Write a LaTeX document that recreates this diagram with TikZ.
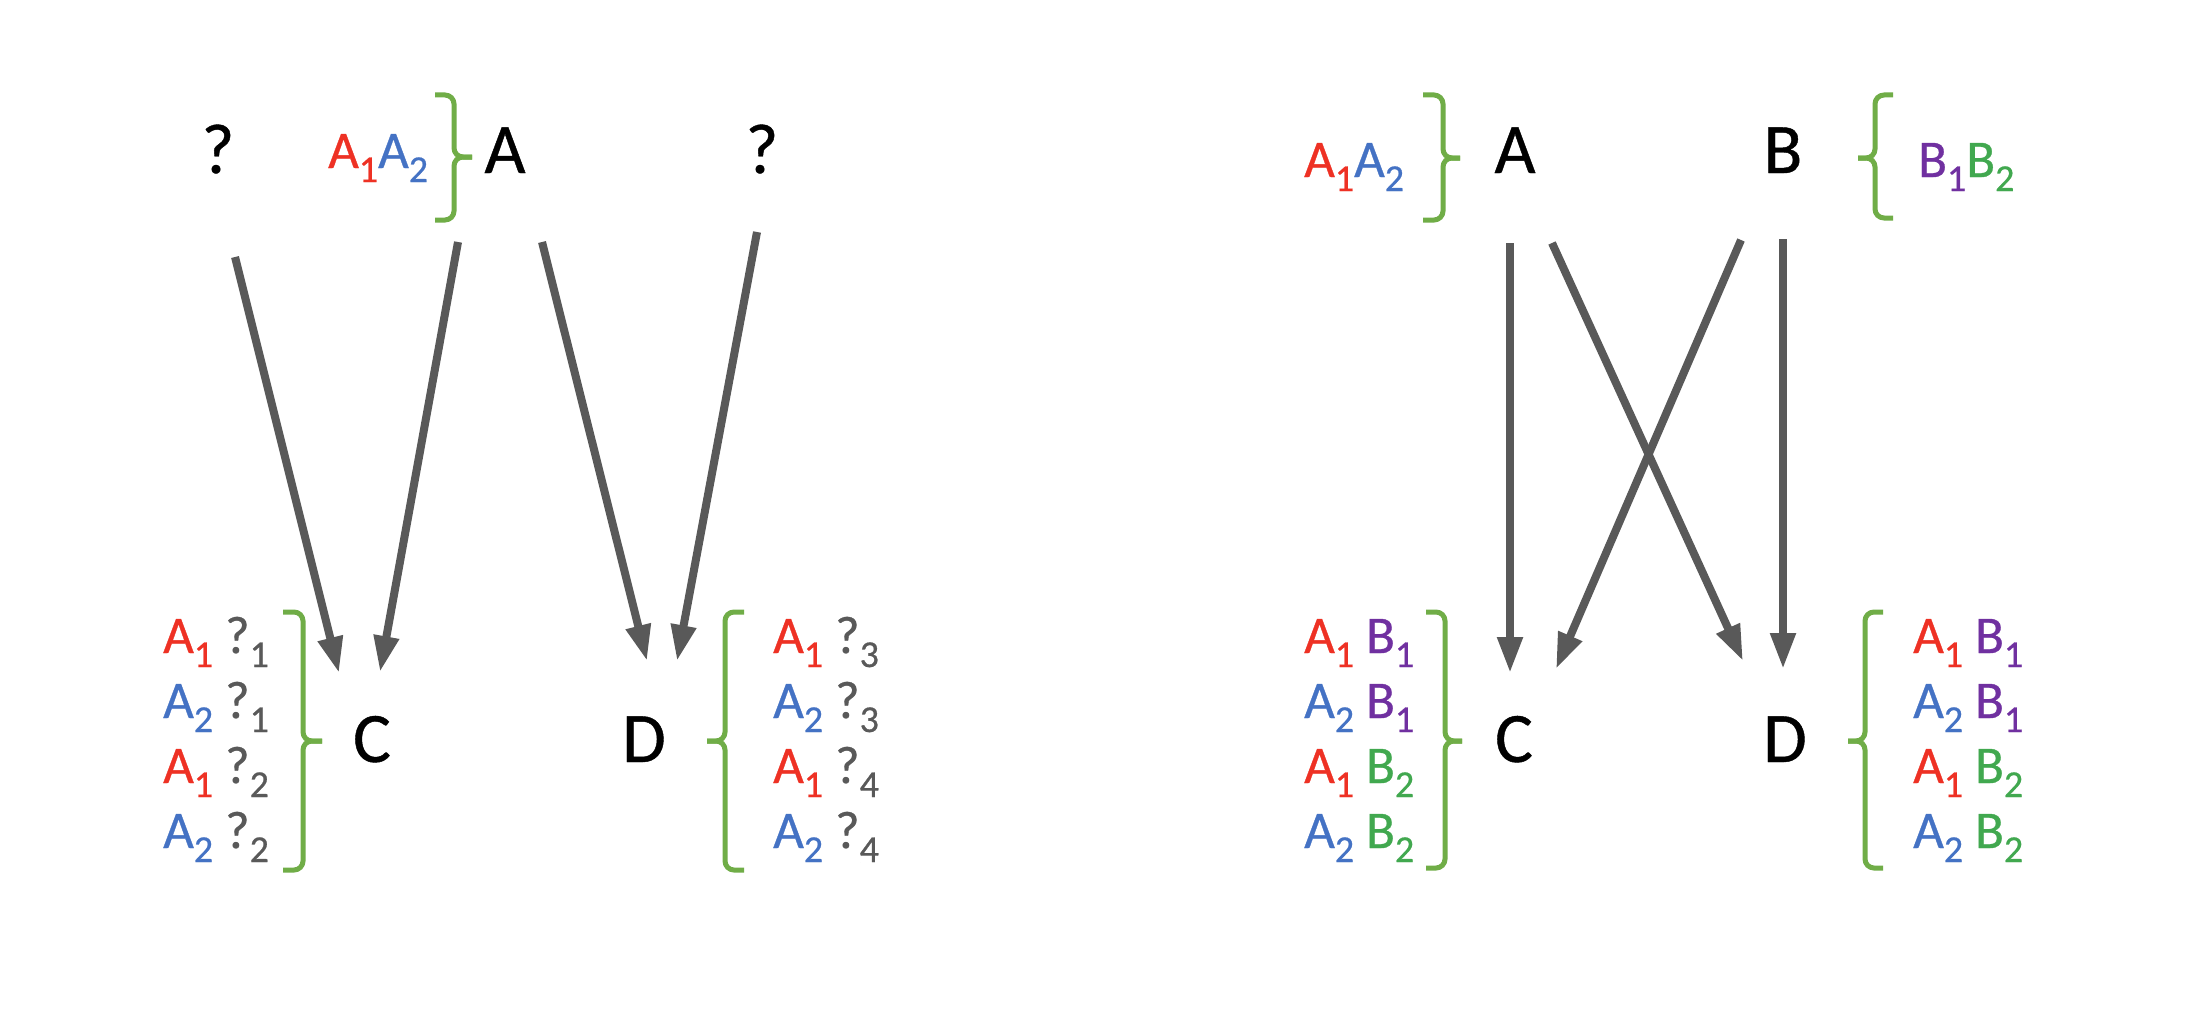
\documentclass[tikz,border=0pt]{standalone}
\usepackage{fontspec}
\setmainfont{Carlito}[FakeBold=0.6]
\usetikzlibrary{arrows.meta}
\definecolor{cred}{HTML}{EE3124}
\definecolor{cblue}{HTML}{4472C4}
\definecolor{cpurp}{HTML}{7030A0}
\definecolor{cgrn}{HTML}{41A84F}
\definecolor{cbrk}{HTML}{70AD47}
\definecolor{cgray}{HTML}{595959}
\newcommand\mysub[1]{\raisebox{-14pt}{\fontsize{38}{42}\selectfont #1}}
\newcommand\smallf{\fontsize{53}{60}\selectfont}
\newcommand\bigf{\fontsize{71}{84}\selectfont}
\newcommand\Aone{{\color{cred}A\mysub{1}}}
\newcommand\Atwo{{\color{cblue}A\mysub{2}}}
\newcommand\Bone{{\color{cpurp}B\mysub{1}}}
\newcommand\Btwo{{\color{cgrn}B\mysub{2}}}
\newcommand\Qn[1]{{\color{cgray}?\mysub{#1}}}
\tikzset{
  big/.style={anchor=base, inner sep=0pt, font=\bigf, text=black},
  lst/.style={anchor=base west, inner sep=0pt, font=\smallf},
  arr/.style={draw=cgray, line width=8pt, -{Triangle[length=36pt,width=24pt]}},
  brk/.style={draw=cbrk, line width=5pt, rounded corners=9pt}
}
\begin{document}
\begin{tikzpicture}[x=1pt,y=-1pt]
\useasboundingbox[fill=white] (0,0) rectangle (2208,1022);

% ---------- left panel ----------
\node[big] (q1) at (218,173) {?};
\node[big] (A1) at (505,173) {A};
\node[big] (q2) at (762,173) {?};
\node[big] (C1) at (372,762) {C};
\node[big] (D1) at (644,762) {D};
\node[lst] (a12L) at (328,168) {\Aone\Atwo};

\node[lst] (cl1) at (163,653) {\Aone{} \Qn{1}};
\node[lst] (cl2) at (163,718) {\Atwo{} \Qn{1}};
\node[lst] (cl3) at (163,783) {\Aone{} \Qn{2}};
\node[lst] (cl4) at (163,848) {\Atwo{} \Qn{2}};

\node[lst] (dl1) at (773,653) {\Aone{} \Qn{3}};
\node[lst] (dl2) at (773,718) {\Atwo{} \Qn{3}};
\node[lst] (dl3) at (773,783) {\Aone{} \Qn{4}};
\node[lst] (dl4) at (773,848) {\Atwo{} \Qn{4}};

% brackets left
\draw[brk] (435,95) -- (454,95) -- (454,157) -- (472,157);
\draw[brk] (435,220) -- (454,220) -- (454,157) -- (472,157);
\draw[brk] (283,612) -- (303,612) -- (303,741) -- (322,741);
\draw[brk] (283,870) -- (303,870) -- (303,741) -- (322,741);
\draw[brk] (744,612) -- (725,612) -- (725,741) -- (707,741);
\draw[brk] (744,870) -- (725,870) -- (725,741) -- (707,741);

% arrows left
\coordinate (q1s) at (235,257);
\coordinate (C1e1) at (339,673);
\coordinate (A1s1) at (458,242);
\coordinate (C1e2) at (380,672);
\coordinate (A1s2) at (542,242);
\coordinate (D1e1) at (647,661);
\coordinate (q2s) at (757,232);
\coordinate (D1e2) at (677,661);
\draw[arr] (q1s) -- (C1e1);
\draw[arr] (A1s1) -- (C1e2);
\draw[arr] (A1s2) -- (D1e1);
\draw[arr] (q2s) -- (D1e2);

% ---------- right panel ----------
\node[big] (A2) at (1515,173) {A};
\node[big] (B2) at (1783,173) {B};
\node[big] (C2) at (1514,762) {C};
\node[big] (D2) at (1785,762) {D};
\node[lst] (a12R) at (1304,177) {\Aone\Atwo};
\node[lst] (b12R) at (1918,177) {\Bone\Btwo};

\node[lst] (cr1) at (1304,653) {\Aone{} \Bone};
\node[lst] (cr2) at (1304,718) {\Atwo{} \Bone};
\node[lst] (cr3) at (1304,783) {\Aone{} \Btwo};
\node[lst] (cr4) at (1304,848) {\Atwo{} \Btwo};

\node[lst] (dr1) at (1913,653) {\Aone{} \Bone};
\node[lst] (dr2) at (1913,718) {\Atwo{} \Bone};
\node[lst] (dr3) at (1913,783) {\Aone{} \Btwo};
\node[lst] (dr4) at (1913,848) {\Atwo{} \Btwo};

% brackets right
\draw[brk] (1423,95) -- (1443,95) -- (1443,158) -- (1460,158);
\draw[brk] (1423,220) -- (1443,220) -- (1443,158) -- (1460,158);
\draw[brk] (1893,95) -- (1875,95) -- (1875,158) -- (1858,158);
\draw[brk] (1893,218) -- (1875,218) -- (1875,158) -- (1858,158);
\draw[brk] (1426,612) -- (1445,612) -- (1445,741) -- (1462,741);
\draw[brk] (1426,868) -- (1445,868) -- (1445,741) -- (1462,741);
\draw[brk] (1883,612) -- (1865,612) -- (1865,741) -- (1848,741);
\draw[brk] (1883,868) -- (1865,868) -- (1865,741) -- (1848,741);

% arrows right
\coordinate (A2s1) at (1510,243);
\coordinate (C2e1) at (1510,673);
\coordinate (A2s2) at (1552,243);
\coordinate (D2e1) at (1743,661);
\coordinate (B2s1) at (1741,240);
\coordinate (C2e2) at (1556,669);
\coordinate (B2s2) at (1783,239);
\coordinate (D2e2) at (1783,669);
\draw[arr] (A2s1) -- (C2e1);
\draw[arr] (A2s2) -- (D2e1);
\draw[arr] (B2s1) -- (C2e2);
\draw[arr] (B2s2) -- (D2e2);
\end{tikzpicture}
\end{document}
